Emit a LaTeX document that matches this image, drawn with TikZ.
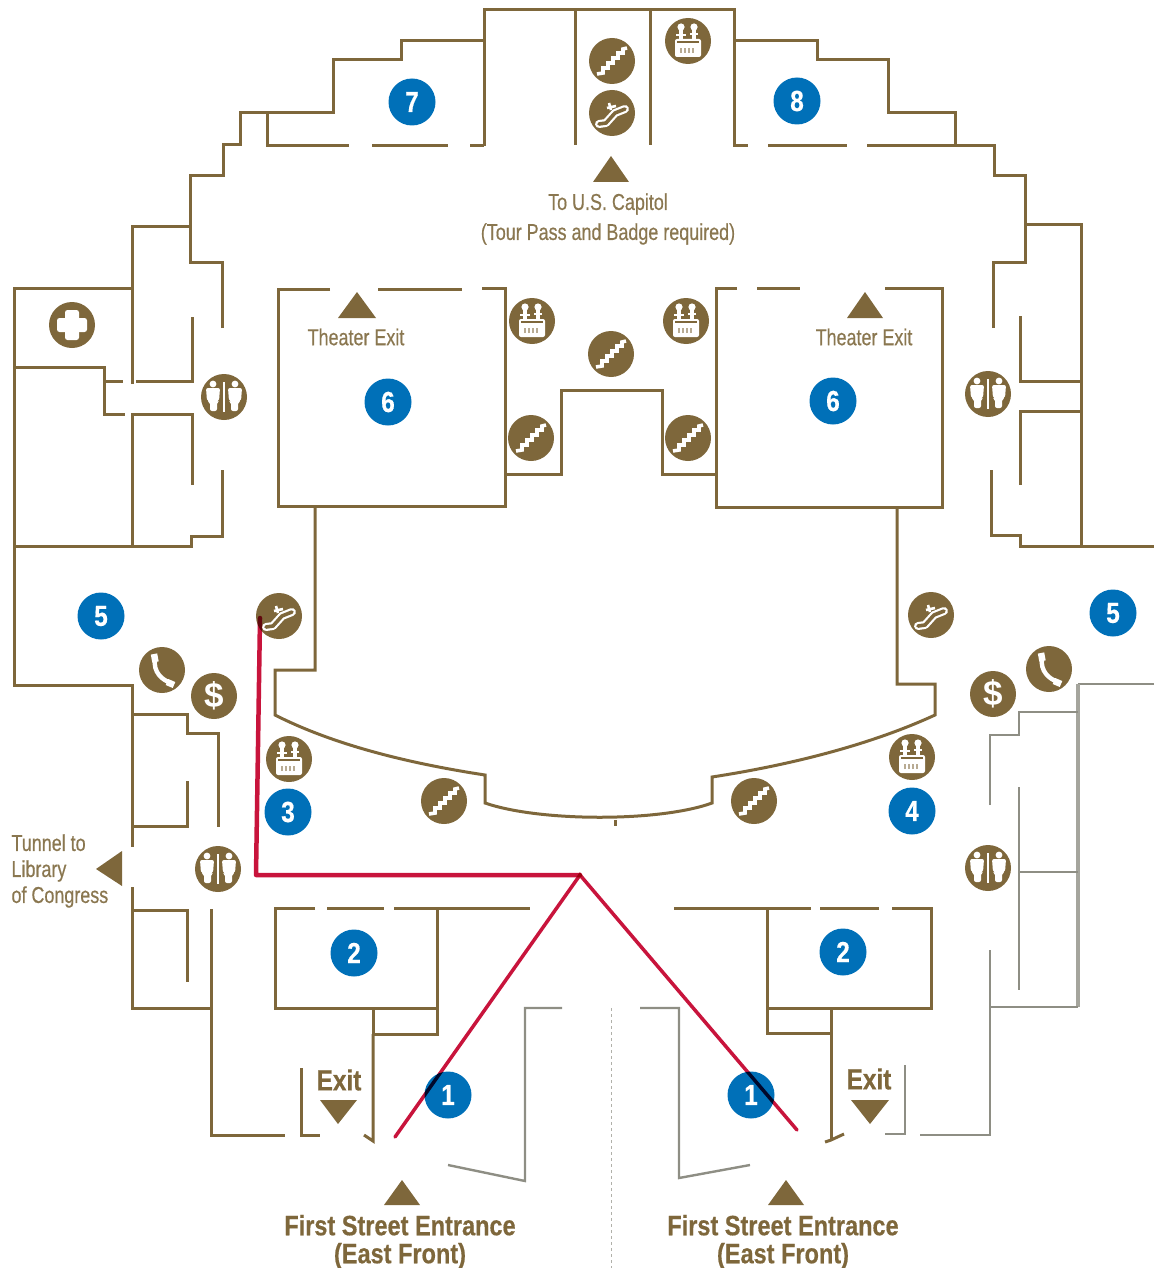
\documentclass[tikz,border=0pt]{standalone}
\usepackage{fontspec}
\setmainfont{Liberation Sans}
\newfontfamily\signfont[FakeStretch=0.84, FakeBold=0.5]{Liberation Sans}
\newfontfamily\thinfont[FakeStretch=0.78, FakeBold=0.5]{Liberation Sans}
\definecolor{wallbrown}{HTML}{7E673B}
\definecolor{wallgrey}{HTML}{8E8E84}
\definecolor{badgeblue}{HTML}{0070B8}
\definecolor{routered}{HTML}{C8143C}
\definecolor{textbrown}{HTML}{8A7750}

\begin{document}
\begin{tikzpicture}[
    x=1pt, y=-1pt,
    wall/.style={draw=wallbrown, line width=3pt},
    greywall/.style={draw=wallgrey, line width=2.4pt},
    marker/.style={fill=wallbrown},
    badge/.style={circle, fill=badgeblue, text=white, minimum size=47pt, inner sep=0pt, font=\signfont\fontsize{29}{29}\selectfont\bfseries},
    sign/.style={circle, fill=wallbrown, text=white, minimum size=46pt, inner sep=0pt},
    stairs/.style={sign, path picture={\draw[white, line width=3.6pt, shift={(path picture bounding box.center)}]
        (-15,13)--(-9,12)--(-9,7)--(-4,7)--(-4,2)--(1,2)--(1,-3)--(6,-3)--(6,-8)--(11,-8)--(11,-12)--(15,-13);}},
    escalator/.style={sign, path picture={\begin{scope}[shift={(path picture bounding box.center)}]
        \draw[white, line width=8pt, line cap=round, line join=round] (-13,11)--(-6,10)--(3,0)--(13,-4);
        \draw[wallbrown, line width=3.6pt, line cap=round, line join=round] (-13,11)--(-6,10)--(3,0)--(13,-4);
        \draw[white, line width=2.6pt] (-3,-10)--(-1,-3) (-5,-5)--(4,-7);
        \end{scope}}},
    elevator/.style={sign, path picture={\begin{scope}[shift={(path picture bounding box.center)}]
        \fill[white, rounded corners=2pt] (-13,-2) rectangle (13,16);
        \draw[wallbrown, line width=2pt] (-11,1)--(11,1);
        \draw[wallbrown!55, line width=1.6pt] (-7,12)--(-7,7) (-3,12)--(-3,7) (1,12)--(1,7) (5,12)--(5,7);
        \fill[white] (-7,-14) circle (3.6pt) (6,-14) circle (3.6pt);
        \draw[white, line width=3.6pt] (-7,-13)--(-7,0) (6,-13)--(6,0);
        \draw[white, line width=2.4pt] (2,-7)--(10,-7) (-12,-6)--(-2,-6);
        \end{scope}}},
    restroom/.style={sign, path picture={\begin{scope}[shift={(path picture bounding box.center)}]
        \draw[white, line width=2.6pt] (0,-15)--(0,15);
        \foreach \s in {-1,1} {
            \fill[white] (\s*11,-13) circle (3.4pt);
            \fill[white, rounded corners=2pt] (\s*4,-9)--(\s*18,-9)--(\s*17,4)--(\s*14,5)--(\s*14,14)--(\s*7,14)--(\s*7,5)--(\s*5,4)--cycle;}
        \end{scope}}},
    phone/.style={sign, path picture={\begin{scope}[shift={(path picture bounding box.center)}]
        \draw[white, line width=4.4pt] (-7,-11) .. controls (-9,2) and (0,10) .. (9,13);
        \draw[white, line width=6.5pt] (-8,-16)--(-6.5,-8) (5,12)--(12,15);
        \end{scope}}},
    firstaid/.style={sign, path picture={\begin{scope}[shift={(path picture bounding box.center)}]
        \fill[white, rounded corners=2.5pt] (-15,-7) rectangle (15,7);
        \fill[white, rounded corners=2.5pt] (-7,-15) rectangle (7,15);
        \end{scope}}},
    bigsign/.style={text=wallbrown, align=center, font=\signfont\fontsize{28}{28}\selectfont\bfseries},
    smallsign/.style={text=textbrown, align=center, font=\thinfont\fontsize{23}{30}\selectfont},
    exitsign/.style={text=wallbrown, font=\signfont\fontsize{29}{29}\selectfont\bfseries}
    ]
\useasboundingbox (0,0) rectangle (1154,1268);

% top block
\draw[wall] (132,384)--(132,226)--(190,226)--(190,176)--(223,176)--(223,145)--(240,145)--(240,113)--(333,113)--(333,60)--(401,60)--(401,41)--(484,41);
\draw[wall] (267,113)--(267,146)--(349,146);
\draw[wall] (372,146)--(448,146) (470,146)--(484,146);
\draw[wall] (484,146)--(484,10)--(734,10)--(734,146)--(748,146);
\draw[wall] (575,10)--(575,145) (650,10)--(650,145);
\draw[wall] (768,146)--(847,146) (867,146)--(955,146);
\draw[wall] (734,41)--(817,41)--(817,60)--(888,60)--(888,113)--(955,113)--(955,146)--(994,146)--(994,176)--(1025,176)--(1025,224)--(1081,224)--(1081,546);

% left wing
\draw[wall] (132,288)--(14,288)--(14,685)--(132,685)--(132,847);
\draw[wall] (14,367)--(104,367)--(104,414)--(125,414);
\draw[wall] (104,381)--(123,381);
\draw[wall] (136,381)--(192,381)--(192,317);
\draw[wall] (222,328)--(222,262)--(190,262)--(190,226);
\draw[wall] (132,546)--(132,414)--(192,414)--(192,485);
\draw[wall] (14,546)--(191,546)--(191,536)--(222,536)--(222,470);
\draw[wall] (132,714)--(187,714)--(187,733)--(218,733)--(218,827);
\draw[wall] (132,826)--(187,826)--(187,781);
\draw[wall] (132,887)--(132,1008)--(210,1008);
\draw[wall] (132,910)--(187,910)--(187,982);
\draw[wall] (211,909)--(211,1135)--(285,1135);
\draw[wall] (301,1068)--(301,1135)--(320,1135);

% right wing
\draw[wall] (993,328)--(993,262)--(1025,262)--(1025,224);
\draw[wall] (1020,316)--(1020,381)--(1081,381);
\draw[wall] (1020,485)--(1020,411)--(1081,411);
\draw[wall] (991,470)--(991,535)--(1020,535)--(1020,546)--(1154,546);

% theaters and stair hall
\draw[wall] (330,289)--(278,289)--(278,506)--(505,506)--(505,288)--(482,288);
\draw[wall] (378,289)--(462,289);
\draw[wall] (737,288)--(716,288)--(716,507)--(942,507)--(942,288)--(885,288);
\draw[wall] (757,288)--(800,288);
\draw[wall] (505,474)--(561,474)--(561,390)--(662,390)--(662,474)--(716,474);

% atrium
\draw[wall] (315,506)--(315,670)--(275,670)--(275,715) .. controls (340,748) and (420,765) .. (485,775)--(485,803) .. controls (540,822) and (660,822) .. (712,803)--(712,777) .. controls (790,765) and (870,745) .. (935,715)--(935,684)--(897,684)--(897,507);
\draw[wall] (615,820)--(615,826);

% foyer rooms
\draw[wall] (315,908)--(275,908)--(275,1008)--(437,1008)--(437,908);
\draw[wall] (327,908)--(384,908) (394,908)--(530,908);
\draw[wall] (373,1008)--(373,1034)--(437,1034)--(437,1008);
\draw[wall] (373,1034)--(373,1141)--(364,1135);
\draw[wall] (674,908)--(811,908) (820,908)--(879,908) (892,908)--(931,908)--(931,1008)--(767,1008)--(767,908);
\draw[wall] (767,1008)--(767,1033)--(831,1033)--(831,1008);
\draw[wall] (831,1033)--(831,1139);
\draw[wall] (825,1142)--(831,1140)--(844,1134);

% grey parts
\draw[greywall] (1154,684)--(1078,684);
\draw[draw=wallgrey!80, line width=4pt] (1078,684)--(1078,1007);
\draw[greywall] (990,805)--(990,735)--(1019,735)--(1019,712)--(1078,712);
\draw[greywall] (1019,787)--(1019,990);
\draw[greywall] (1019,872)--(1078,872);
\draw[greywall] (990,1007)--(1078,1007);
\draw[greywall] (990,950)--(990,1135)--(920,1135);
\draw[greywall] (905,1065)--(905,1134)--(885,1134);
\draw[greywall] (562,1008)--(525,1008)--(525,1181)--(448,1165);
\draw[greywall] (640,1008)--(679,1008)--(679,1178)--(750,1165);
\draw[draw=wallgrey!70, line width=1pt, dashed] (611,1008)--(611,1268);

% signs
\foreach \i/\px/\py in {a/612/61, b/611/354, c/531/438, d/688/438, e/444/801, f/754/801}
    \node[stairs] (stairs\i) at (\px,\py) {};
\foreach \i/\px/\py in {a/612/113, b/279/616, c/931/615}
    \node[escalator] (esc\i) at (\px,\py) {};
\foreach \i/\px/\py in {a/688/41, b/532/321, c/686/321, d/289/759, e/912/757}
    \node[elevator] (lift\i) at (\px,\py) {};
\foreach \i/\px/\py in {a/224/397, b/988/394, c/218/869, d/988/868}
    \node[restroom] (rest\i) at (\px,\py) {};
\node[phone] (phonea) at (162,670) {};
\node[phone] (phoneb) at (1049,669) {};
\node[sign, font=\bfseries\fontsize{35}{35}\selectfont] (casha) at (214,696) {\$};
\node[sign, font=\bfseries\fontsize{35}{35}\selectfont] (cashb) at (993,694) {\$};
\node[firstaid] (aid) at (72,325) {};

% numbered badges
\foreach \i/\t/\px/\py in {a/7/412/102, b/8/797/101, c/6/388/402, d/6/833/401, e/5/101/616, f/5/1113/613,
            g/3/288/812, h/4/912/811, i/2/354/953, j/2/843/952, k/1/448/1095, l/1/751/1095}
    \node[badge] (badge\i) at (\px,\py) {\t};

% route
\begin{scope}[blend mode=multiply]
\coordinate (fork) at (580,875);
\coordinate (corner) at (256,875);
\draw[routered, line width=3.5pt, line cap=round] (395,1137)--(fork)--(797,1130);
\draw[routered, line width=4.5pt, line cap=round, line join=round] (fork)--(corner)--(260,618);
\end{scope}

% triangles
\fill[marker] (611,156)--(593,182)--(629,182)--cycle;
\fill[marker] (357,292)--(338,318)--(376,318)--cycle;
\fill[marker] (865,292)--(847,318)--(883,318)--cycle;
\fill[marker] (96,869)--(122,851)--(122,886)--cycle;
\fill[marker] (320,1100)--(357,1100)--(338,1124)--cycle;
\fill[marker] (851,1100)--(889,1100)--(870,1124)--cycle;
\fill[marker] (402,1180)--(384,1205)--(420,1205)--cycle;
\fill[marker] (786,1180)--(768,1205)--(804,1205)--cycle;

% texts
\node[smallsign] (capitol) at (608,219) {To U.S. Capitol\\(Tour Pass and Badge required)};
\node[smallsign] (theatera) at (356,337) {Theater Exit};
\node[smallsign] (theaterb) at (864,337) {Theater Exit};
\node[smallsign, align=left, anchor=west, font=\thinfont\fontsize{23}{26}\selectfont] (tunnel) at (8,871) {Tunnel to\\Library\\of Congress};
\node[exitsign] (exita) at (339,1080) {Exit};
\node[exitsign] (exitb) at (869,1079) {Exit};
\node[bigsign] (fronta) at (400,1242) {First Street Entrance\\(East Front)};
\node[bigsign] (frontb) at (783,1242) {First Street Entrance\\(East Front)};

\end{tikzpicture}
\end{document}
